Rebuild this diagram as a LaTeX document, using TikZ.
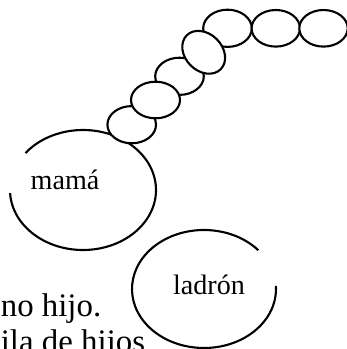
\documentclass[tikz,border=0pt]{standalone}
\usepackage{fontspec}
\setmainfont{Liberation Serif}
\usepackage{tikz}

\tikzset{
  rim/.style={line width=1.2pt},
  bead/.style={draw, fill=white, line width=1.2pt},
  label/.style={inner sep=0pt, anchor=base, font=\fontsize{16}{19}\selectfont}
}

\begin{document}
\begin{tikzpicture}
\useasboundingbox (0,0) rectangle (6.92,6.98);

% Big open ellipses
\coordinate (mamaC) at (1.66,3.18);
\coordinate (ladronC) at (4.08,1.20);
\draw[rim] (mamaC) ++(183:1.46 and 1.2) arc[start angle=183, end angle=502, x radius=1.46, y radius=1.2];
\draw[rim] (ladronC) ++(41:1.44 and 1.18) arc[start angle=41, end angle=363, x radius=1.44, y radius=1.18];

% Beads, lower ones first
\foreach \x/\y in {2.634/4.486, 3.59/5.454, 4.55/6.414} {
    \draw[bead] (\x,\y) ellipse (0.486 and 0.372);
}
\draw[bead] (3.11,4.98) ellipse (0.49 and 0.366);
\draw[bead, shift={(4.074,5.934)}, rotate=-45] (0,0) ellipse (0.48 and 0.37);
\foreach \x in {5.516, 6.47} {
    \draw[bead] (\x,6.414) ellipse (0.484 and 0.366);
}

% Labels
\node[label] (mama) at (1.30,3.18) {mamá};
\node[label] (ladron) at (4.18,1.09) {ladrón};

% Cut text at the page edge
\node[inner sep=0pt, anchor=base west, align=left, font=\fontsize{18.7}{20.9}\selectfont] (note) at (0.01,-0.075) {no hijo.\\ila de hijos};
\end{tikzpicture}
\end{document}
